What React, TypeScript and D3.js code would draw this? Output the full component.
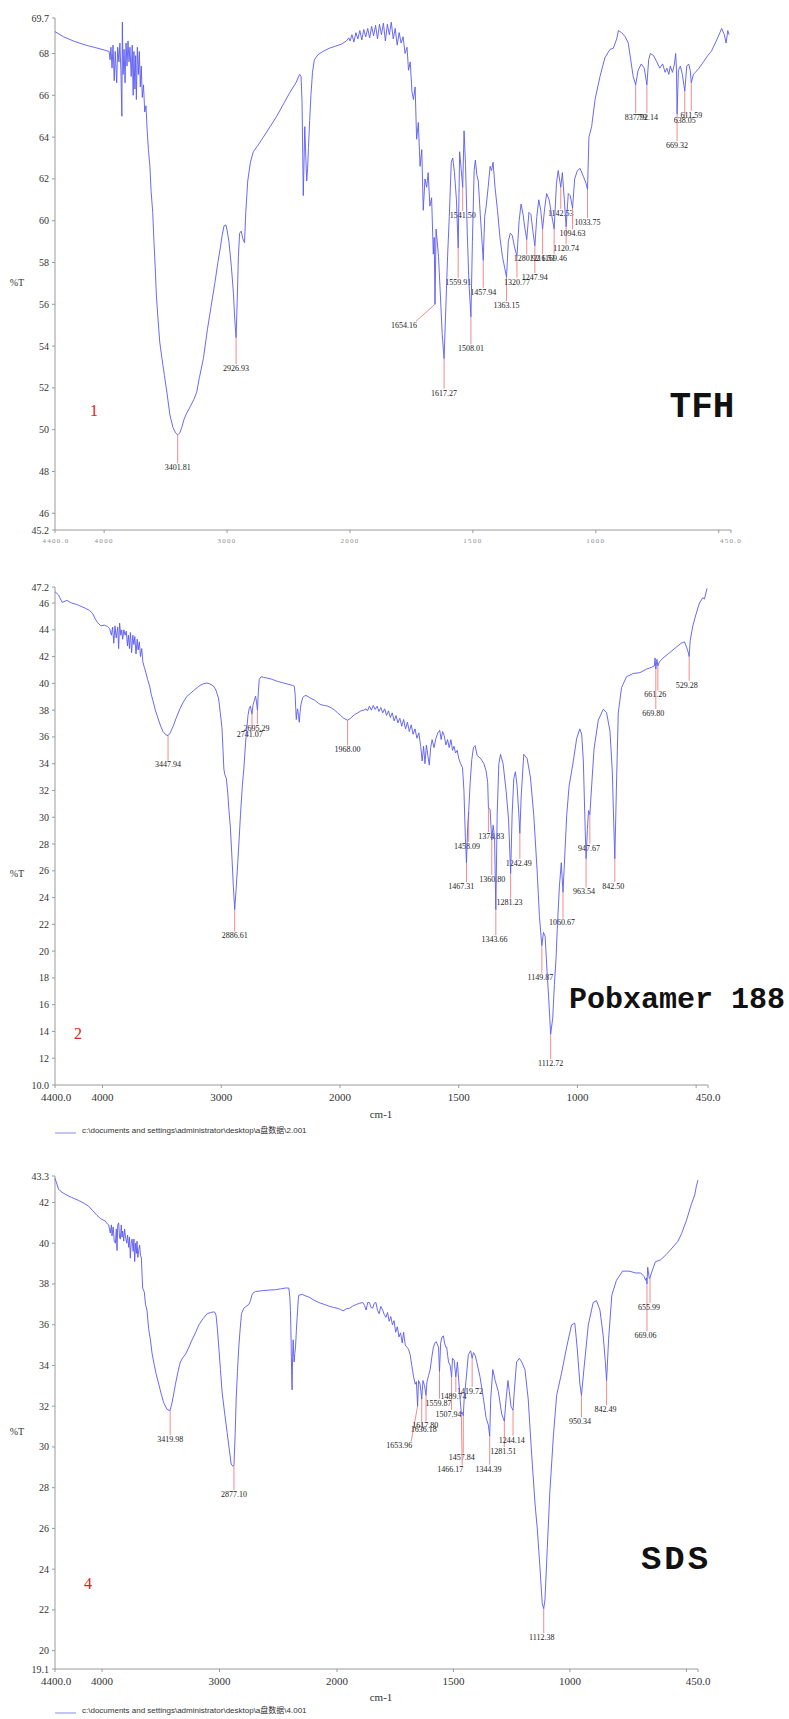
import React from "react";
import * as d3 from "d3";

// instrument x axis: linear from 4400 to 2000, then twice as wide per cm-1 down to 450
const xBreaks = [4400, 2000, 450];
const xTickValues = [4400, 4000, 3000, 2000, 1500, 1000, 500, 450];
const xTickLabels = ["4400.0", "4000", "3000", "2000", "1500", "1000", "", "450.0"];

// ---------- panel 1 : TFH ----------
const tfhYLabels = ["45.2", "46", "48", "50", "52", "54", "56", "58", "60", "62", "64", "66", "68", "69.7"];
const tfhSpectrum = [
  [4400, 69.05], [4330, 68.8], [4250, 68.6], [4150, 68.4], [4050, 68.25], [3990, 68.15], [3960, 68.1],
  [3952, 67.7], [3945, 68.3], [3936, 67.3], [3928, 68.4], [3918, 66.7], [3910, 68.1], [3898, 66.6],
  [3890, 68.3], [3880, 67.6], [3872, 68.5], [3864, 67.2], [3856, 65.0], [3852, 69.5], [3846, 67.0],
  [3838, 68.2], [3830, 66.6], [3822, 68.5], [3814, 67.4], [3806, 68.6], [3798, 67.6], [3790, 68.3],
  [3780, 66.9], [3772, 68.4], [3764, 66.0], [3758, 68.1], [3750, 66.3], [3744, 67.9], [3738, 65.8],
  [3730, 68.3], [3722, 67.0], [3714, 68.1], [3706, 66.4], [3698, 67.4], [3690, 65.9], [3680, 66.5],
  [3670, 65.2], [3660, 65.5], [3650, 64.3], [3640, 63.4], [3628, 62.6], [3618, 61.4], [3605, 60.4],
  [3595, 59.0], [3585, 57.8], [3575, 56.4], [3562, 55.3], [3548, 54.2], [3530, 53.4], [3510, 52.6],
  [3490, 51.8], [3465, 50.7], [3440, 50.1], [3420, 49.85], [3401.81, 49.75], [3385, 49.85], [3369, 50.1],
  [3350, 50.5], [3328, 50.8], [3300, 51.1], [3270, 51.45], [3247, 51.8], [3225, 52.5], [3193, 53.4],
  [3160, 54.8], [3130, 55.9], [3100, 57.0], [3075, 58.0], [3055, 58.7], [3040, 59.3], [3025, 59.75],
  [3010, 59.8], [3000, 59.55], [2985, 59.0], [2965, 57.8], [2948, 56.5], [2938, 55.3], [2926.93, 54.4],
  [2918, 56.1], [2908, 58.3], [2898, 59.4], [2885, 59.5], [2872, 59.15], [2858, 58.95], [2848, 60.4],
  [2832, 61.9], [2810, 62.8], [2787, 63.3], [2750, 63.6], [2705, 64.0], [2650, 64.5], [2596, 65.0],
  [2540, 65.6], [2488, 66.15], [2440, 66.6], [2410, 67.0], [2398, 66.9], [2390, 65.6], [2380, 61.2],
  [2374, 62.8], [2368, 64.5], [2360, 63.1], [2352, 61.9], [2345, 62.5], [2338, 63.5], [2328, 64.8],
  [2318, 66.0], [2305, 67.1], [2290, 67.7], [2260, 67.95], [2220, 68.1], [2170, 68.25], [2120, 68.35],
  [2070, 68.45], [2030, 68.6], [2010, 68.75], [2000, 68.6], [1992, 68.9], [1984, 68.55], [1976, 69.0],
  [1968, 68.7], [1960, 69.1], [1952, 68.65], [1944, 69.15], [1936, 68.8], [1928, 69.2], [1920, 68.75],
  [1912, 69.3], [1904, 68.85], [1896, 69.35], [1888, 68.7], [1880, 69.4], [1872, 68.9], [1864, 69.45],
  [1856, 68.6], [1848, 69.4], [1840, 68.9], [1832, 69.5], [1824, 68.7], [1816, 69.2], [1808, 68.4],
  [1800, 69.0], [1792, 68.5], [1784, 68.8], [1776, 68.0], [1768, 68.3], [1762, 67.2], [1755, 67.6],
  [1748, 66.2], [1742, 65.8], [1735, 66.4], [1729, 63.9], [1722, 64.7], [1715, 62.6], [1708, 63.4],
  [1702, 60.5], [1695, 62.0], [1688, 61.6], [1682, 62.3], [1675, 60.7], [1668, 61.1], [1661, 58.4],
  [1657.5, 59.2], [1654.16, 56.0], [1650, 59.6], [1645, 59.0], [1640, 58.3], [1633, 56.6], [1625, 54.6],
  [1617.27, 53.4], [1610, 55.9], [1603, 58.3], [1596, 60.2], [1588, 62.8], [1582, 63.0], [1575, 62.3],
  [1567, 61.0], [1559.91, 58.7], [1554, 63.3], [1548, 62.5], [1541.5, 61.6], [1536, 64.3], [1530, 62.7],
  [1523, 59.4], [1516, 57.0], [1508.01, 55.4], [1502, 59.0], [1495, 62.4], [1490, 62.9], [1484, 62.2],
  [1478, 61.9], [1470, 60.3], [1457.94, 58.1], [1452, 60.2], [1446, 60.7], [1438, 61.6], [1430, 62.6],
  [1424, 62.4], [1418, 62.8], [1410, 61.6], [1400, 60.5], [1390, 59.2], [1380, 58.3], [1370, 57.7],
  [1363.15, 57.3], [1356, 59.0], [1348, 59.4], [1340, 59.3], [1330, 58.7], [1320.77, 58.3], [1312, 60.0],
  [1304, 60.8], [1296, 60.3], [1288, 59.6], [1280.92, 59.1], [1272, 60.4], [1264, 60.3], [1256, 59.5],
  [1247.94, 58.8], [1240, 60.2], [1232, 61.0], [1224, 60.5], [1216.51, 59.6], [1208, 60.6], [1200, 61.3],
  [1190, 61.0], [1180, 60.3], [1169.46, 59.6], [1160, 61.8], [1153, 62.4], [1142.53, 61.6], [1136, 62.3],
  [1128, 61.0], [1120.74, 59.7], [1112, 61.3], [1104, 61.2], [1094.63, 60.6], [1086, 62.0], [1075, 62.4],
  [1064, 62.5], [1050, 62.1], [1040, 61.8], [1033.75, 61.5], [1028, 64.0], [1017, 64.5], [1003, 65.8],
  [983, 66.9], [963, 67.8], [942, 68.2], [929, 68.25], [915, 68.7], [908, 69.1], [895, 69.0], [880, 68.8],
  [868, 68.5], [858, 67.7], [848, 66.9], [837.79, 66.5], [828, 67.2], [815, 67.5], [803, 67.3],
  [792.14, 66.5], [785, 67.7], [778, 68.0], [765, 67.9], [752, 67.6], [740, 67.3], [728, 67.5], [718, 67.1],
  [711, 67.3], [703, 67.0], [697, 67.4], [688, 67.1], [680, 67.5], [675, 68.0], [672, 67.3], [669.32, 65.1],
  [664, 67.2], [656, 67.4], [648, 67.0], [638.05, 66.2], [630, 67.4], [622, 67.5], [616, 67.2],
  [611.59, 66.6], [603, 67.0], [595, 67.1], [580, 67.3], [562, 67.6], [545, 67.9], [530, 68.1], [510, 68.6],
  [495, 69.0], [488, 69.2], [477, 68.9], [470, 68.5], [463, 69.1], [458, 68.9],
];
// [peak cm-1, %T at peak, %T of label, cm-1 of label centre]
const tfhPeaks = [
  [3401.81, 49.75, 48.2], [2926.93, 54.4, 52.95], [1654.16, 56.0, 55.0, 1780], [1617.27, 53.4, 51.77],
  [1559.91, 58.7, 57.08], [1541.5, 61.6, 60.27], [1508.01, 55.4, 53.9], [1457.94, 58.1, 56.6],
  [1363.15, 57.3, 55.97], [1320.77, 58.3, 57.08], [1280.92, 59.1, 58.2], [1247.94, 58.8, 57.3],
  [1216.51, 59.6, 58.2], [1169.46, 59.6, 58.2], [1142.53, 61.6, 60.37], [1120.74, 59.7, 58.68],
  [1094.63, 60.6, 59.4], [1033.75, 61.5, 59.95], [837.79, 66.5, 64.95], [792.14, 66.5, 64.95],
  [669.32, 65.1, 63.62], [638.05, 66.2, 64.79], [611.59, 66.6, 65.06],
];

// ---------- panel 2 : Poloxamer 188 ----------
const poloxYLabels = ["10.0", "12", "14", "16", "18", "20", "22", "24", "26", "28", "30", "32", "34", "36", "38", "40", "42", "44", "46", "47.2"];
const poloxSpectrum = [
  [4400, 46.85], [4370, 46.6], [4340, 46.05], [4300, 46.2], [4260, 46.0], [4218, 45.9], [4180, 45.75],
  [4142, 45.6], [4110, 45.45], [4085, 45.25], [4060, 44.8], [4042, 44.55], [4014, 44.3], [3985, 44.35],
  [3958, 44.25], [3940, 44.1], [3925, 43.6], [3915, 44.2], [3905, 43.0], [3895, 44.3], [3885, 43.4],
  [3872, 44.2], [3864, 42.6], [3856, 44.5], [3846, 43.6], [3838, 44.0], [3830, 43.3], [3820, 44.0],
  [3810, 43.6], [3800, 43.9], [3790, 42.8], [3782, 43.6], [3773, 42.6], [3765, 43.8], [3755, 42.3],
  [3745, 43.6], [3736, 42.9], [3728, 43.5], [3718, 42.2], [3708, 43.3], [3700, 42.5], [3690, 43.1],
  [3680, 42.0], [3670, 42.6], [3660, 41.6], [3648, 41.2], [3635, 40.8], [3620, 40.3], [3603, 39.8],
  [3590, 39.2], [3575, 38.7], [3555, 38.0], [3533, 37.4], [3510, 36.8], [3490, 36.4], [3465, 36.15],
  [3447.94, 36.1], [3430, 36.3], [3405, 36.8], [3380, 37.4], [3348, 38.1], [3320, 38.6], [3292, 39.0],
  [3260, 39.25], [3235, 39.45], [3200, 39.7], [3178, 39.85], [3150, 39.97], [3122, 40.03], [3095, 39.95],
  [3065, 39.8], [3045, 39.5], [3023, 38.9], [3008, 37.8], [2994, 36.7], [2985, 35.0], [2978, 33.6],
  [2970, 33.2], [2957, 32.9], [2945, 31.8], [2935, 30.5], [2923, 29.2], [2910, 27.0], [2898, 24.8],
  [2886.61, 23.1], [2875, 24.6], [2861, 26.6], [2848, 28.6], [2838, 30.2], [2822, 32.4], [2810, 33.6],
  [2795, 35.6], [2787, 36.4], [2775, 37.6], [2765, 38.1], [2755, 38.3], [2741.07, 37.7], [2732, 38.4],
  [2722, 38.7], [2711, 39.05], [2703, 38.6], [2695.29, 38.0], [2688, 39.3], [2680, 40.3], [2665, 40.5],
  [2645, 40.45], [2612, 40.4], [2570, 40.3], [2527, 40.15], [2485, 40.05], [2442, 39.95], [2400, 39.85],
  [2385, 39.8], [2378, 39.2], [2372, 38.0], [2368, 37.3], [2362, 37.9], [2357, 38.1], [2350, 37.6],
  [2343, 37.1], [2336, 37.9], [2329, 38.4], [2314, 38.95], [2300, 39.05], [2286, 39.1], [2250, 38.9],
  [2215, 38.75], [2180, 38.5], [2158, 38.4], [2130, 38.35], [2102, 38.3], [2070, 38.15], [2045, 38.0],
  [2020, 37.8], [1997, 37.6], [1985, 37.4], [1968, 37.25], [1955, 37.4], [1940, 37.65], [1925, 37.8],
  [1912, 37.95], [1900, 38.0], [1890, 38.1], [1884, 37.95], [1876, 38.3], [1868, 38.0], [1860, 38.35],
  [1852, 38.05], [1844, 38.3], [1836, 37.9], [1828, 38.2], [1820, 37.8], [1812, 38.1], [1804, 37.6],
  [1796, 37.95], [1788, 37.45], [1780, 37.8], [1772, 37.2], [1764, 37.6], [1756, 37.05], [1748, 37.4],
  [1740, 36.8], [1732, 37.3], [1724, 36.6], [1716, 37.1], [1708, 36.4], [1700, 36.9], [1692, 36.2],
  [1684, 36.6], [1676, 35.9], [1668, 36.3], [1660, 35.3], [1654, 34.2], [1648, 35.3], [1642, 34.0],
  [1636, 35.4], [1630, 34.6], [1624, 33.9], [1618, 35.2], [1612, 35.8], [1604, 35.2], [1596, 35.9],
  [1588, 36.3], [1580, 36.5], [1574, 35.8], [1568, 36.4], [1561, 36.1], [1554, 35.4], [1547, 35.8],
  [1540, 35.2], [1533, 35.8], [1526, 35.0], [1520, 35.3], [1513, 34.8], [1506, 35.0], [1500, 34.4],
  [1492, 34.0], [1484, 33.7], [1478, 32.0], [1472, 28.5], [1467.31, 26.6], [1462, 29.4], [1458.09, 30.4],
  [1452, 32.5], [1445, 34.3], [1438, 35.2], [1431, 35.35], [1422, 34.6], [1408, 34.4], [1394, 34.0],
  [1385, 33.5], [1378, 32.6], [1374.83, 30.7], [1368, 30.6], [1360.8, 28.3], [1355, 29.4], [1349, 28.5],
  [1343.66, 23.1], [1338, 30.2], [1331, 34.0], [1324, 34.7], [1313, 34.0], [1300, 31.9], [1290, 29.8],
  [1281.23, 25.8], [1275, 30.2], [1268, 32.9], [1261, 33.4], [1254, 32.3], [1247, 30.3], [1242.49, 28.8],
  [1237, 31.5], [1226, 34.7], [1212, 34.4], [1198, 33.0], [1184, 30.2], [1170, 26.1], [1160, 22.6],
  [1149.87, 20.4], [1143, 21.4], [1136, 21.1], [1128, 18.5], [1121, 16.5], [1112.72, 13.8], [1104, 15.0],
  [1097, 17.5], [1090, 19.5], [1084, 22.0], [1076, 24.8], [1068, 26.6], [1060.67, 24.4], [1056, 26.1],
  [1045, 30.2], [1035, 32.35], [1019, 34.0], [1003, 35.9], [990, 36.6], [982, 36.2], [975, 34.2],
  [968, 29.5], [963.54, 26.9], [958, 29.1], [953, 30.5], [947.67, 30.2], [942, 31.8], [930, 35.1],
  [912, 37.26], [891, 38.07], [877, 37.8], [863, 36.44], [853, 33.4], [847, 29.5], [842.5, 26.9],
  [836, 32.0], [828, 37.8], [814, 39.7], [793, 40.5], [765, 40.74], [737, 40.8], [709, 41.07], [688, 41.2],
  [676, 41.3], [673, 41.9], [669.8, 41.07], [665, 41.8], [661.26, 41.3], [655, 41.6], [639, 41.9],
  [611, 42.3], [584, 42.7], [563, 43.0], [549, 43.1], [540, 42.7], [533, 42.3], [529.28, 42.0],
  [525, 43.2], [514, 44.3], [500, 45.2], [486, 46.0], [472, 46.4], [465, 46.3], [454, 47.1],
];
const poloxPeaks = [
  [3447.94, 36.1, 33.93], [2886.61, 23.1, 21.17], [2741.07, 37.7, 36.22, 2760], [2695.29, 38.0, 36.66, 2703],
  [1968.0, 37.25, 35.07], [1467.31, 26.6, 24.85, 1489], [1458.09, 30.4, 27.85, 1465],
  [1374.83, 30.7, 28.59, 1363], [1360.8, 28.3, 25.4, 1359], [1343.66, 23.1, 20.9, 1349],
  [1281.23, 25.8, 23.63, 1286], [1242.49, 28.8, 26.6, 1247], [1149.87, 20.4, 18.04, 1156],
  [1112.72, 13.8, 11.64], [1060.67, 24.4, 22.13, 1065], [963.54, 26.9, 24.44, 972], [947.67, 30.2, 27.72, 951],
  [842.5, 26.9, 24.85, 849], [669.8, 41.07, 37.8, 681], [661.26, 41.3, 39.16, 672], [529.28, 42.0, 39.9, 539],
];

// ---------- panel 3 : SDS ----------
const sdsYLabels = ["19.1", "20", "22", "24", "26", "28", "30", "32", "34", "36", "38", "40", "42", "43.3"];
const sdsSpectrum = [
  [4400, 43.19], [4369, 42.64], [4340, 42.5], [4312, 42.4], [4260, 42.25], [4199, 42.1], [4150, 41.95],
  [4114, 41.82], [4080, 41.6], [4043, 41.37], [4010, 41.2], [3972, 41.09], [3955, 40.95], [3943, 40.9],
  [3930, 40.5], [3920, 40.9], [3915, 40.36], [3905, 40.8], [3896, 40.1], [3886, 40.0], [3878, 40.7],
  [3872, 39.64], [3866, 40.9], [3858, 41.0], [3851, 40.3], [3844, 40.2], [3836, 40.9], [3830, 40.3],
  [3824, 40.6], [3815, 40.1], [3808, 40.7], [3801, 40.36], [3790, 40.0], [3782, 40.4], [3773, 39.8],
  [3766, 40.3], [3759, 39.27], [3752, 40.0], [3744, 40.2], [3735, 39.6], [3728, 40.2], [3722, 39.1],
  [3714, 40.0], [3707, 39.5], [3702, 40.1], [3695, 39.3], [3688, 39.64], [3680, 39.9], [3672, 39.4],
  [3665, 39.27], [3654, 37.8], [3640, 37.6], [3630, 37.0], [3617, 36.7], [3603, 35.8], [3588, 35.26],
  [3574, 34.6], [3560, 34.17], [3540, 33.6], [3517, 33.08], [3496, 32.6], [3475, 32.17], [3446, 31.84],
  [3430, 31.8], [3419.98, 31.8], [3404, 32.17], [3390, 32.6], [3375, 33.08], [3353, 33.7], [3333, 34.17],
  [3310, 34.4], [3290, 34.54], [3260, 34.9], [3233, 35.26], [3205, 35.6], [3176, 35.99], [3140, 36.3],
  [3105, 36.54], [3075, 36.6], [3049, 36.63], [3038, 36.6], [3029, 36.45], [3018, 35.8], [3006, 34.9],
  [2992, 33.8], [2978, 32.7], [2955, 31.6], [2935, 30.7], [2915, 29.8], [2901, 29.16], [2885, 29.05],
  [2877.1, 29.1], [2868, 30.4], [2858, 32.35], [2847, 33.7], [2836, 34.9], [2824, 35.8], [2813, 36.54],
  [2793, 36.81], [2765, 36.94], [2750, 37.0], [2736, 37.18], [2725, 37.45], [2716, 37.54], [2694, 37.63],
  [2637, 37.67], [2580, 37.7], [2523, 37.72], [2480, 37.76], [2438, 37.8], [2410, 37.8], [2402, 37.4],
  [2396, 36.7], [2390, 35.0], [2386, 33.5], [2382, 32.8], [2378, 34.4], [2373, 35.26], [2369, 34.6],
  [2365, 34.17], [2359, 34.6], [2353, 34.9], [2346, 35.7], [2339, 36.36], [2330, 37.2], [2325, 37.45],
  [2296, 37.49], [2270, 37.42], [2240, 37.36], [2200, 37.22], [2155, 37.09], [2110, 37.0], [2062, 36.9],
  [2030, 36.85], [2000, 36.81], [1985, 36.75], [1974, 36.68], [1960, 36.78], [1946, 36.81], [1932, 36.92],
  [1918, 36.99], [1904, 37.05], [1889, 37.09], [1882, 36.95], [1875, 36.72], [1868, 37.1], [1861, 37.09],
  [1854, 36.85], [1847, 36.81], [1840, 37.05], [1833, 37.09], [1826, 36.7], [1819, 36.54], [1812, 36.9],
  [1804, 36.72], [1797, 36.5], [1790, 36.36], [1783, 36.6], [1776, 36.17], [1769, 36.4], [1762, 35.99],
  [1755, 36.2], [1748, 35.63], [1741, 35.9], [1734, 35.4], [1727, 35.6], [1720, 35.1], [1714, 35.63],
  [1707, 35.0], [1700, 34.9], [1693, 34.8], [1686, 34.54], [1679, 34.0], [1671, 33.44], [1664, 33.08],
  [1659, 33.2], [1653.96, 32.0], [1650, 33.26], [1643, 33.08], [1636.18, 32.35], [1631, 33.26],
  [1624, 33.0], [1617.8, 32.53], [1614, 33.17], [1607, 33.5], [1600, 33.8], [1593, 34.4], [1586, 34.9],
  [1580, 35.1], [1574, 35.17], [1568, 35.0], [1564, 34.9], [1559.87, 33.7], [1555, 35.1], [1549, 35.4],
  [1543, 35.45], [1538, 35.1], [1533, 34.9], [1529, 34.9], [1525, 34.5], [1521, 34.17], [1514, 34.0],
  [1507.94, 33.44], [1504, 34.35], [1497, 34.26], [1489.74, 33.44], [1483, 34.17], [1477, 33.2],
  [1471, 32.3], [1466.17, 31.62], [1462, 31.7], [1457.84, 31.53], [1454, 32.35], [1446, 33.26],
  [1436, 34.54], [1426, 34.72], [1419.72, 34.35], [1414, 34.63], [1407, 34.5], [1400, 34.17],
  [1386, 33.44], [1371, 32.35], [1360, 31.44], [1350, 31.07], [1344.39, 30.53], [1340, 32.35],
  [1331, 33.8], [1321, 33.26], [1307, 32.71], [1293, 31.62], [1281.51, 31.26], [1274, 32.35],
  [1266, 33.26], [1260, 32.71], [1253, 31.99], [1244.14, 31.8], [1239, 32.71], [1229, 34.17],
  [1217, 34.35], [1207, 34.17], [1193, 33.8], [1179, 32.35], [1164, 29.6], [1150, 27.25], [1140, 25.97],
  [1129, 24.15], [1119, 22.33], [1112.38, 22.06], [1107, 22.5], [1097, 25.06], [1086, 27.8], [1071, 30.53],
  [1057, 32.53], [1036, 33.62], [1014, 34.9], [993, 35.99], [979, 36.08], [969, 34.9], [957, 33.08],
  [950.34, 32.53], [940, 33.8], [921, 35.99], [900, 37.09], [886, 37.18], [871, 36.72], [857, 35.45],
  [848, 34.2], [842.49, 33.26], [834, 35.26], [820, 37.45], [800, 38.18], [774, 38.63], [746, 38.63],
  [717, 38.54], [696, 38.54], [681, 38.36], [675, 38.18], [671, 38.3], [669.06, 38.0], [666, 38.82],
  [659, 38.27], [655.99, 38.3], [650, 38.54], [633, 39.09], [611, 39.18], [586, 39.45], [557, 39.82],
  [536, 40.1], [521, 40.46], [500, 41.1], [479, 41.9], [464, 42.37], [457, 42.8], [450, 43.1],
];
const sdsPeaks = [
  [3419.98, 31.8, 30.38], [2877.1, 29.1, 27.7], [1653.96, 32.0, 30.07, 1733], [1636.18, 32.35, 30.85, 1628],
  [1617.8, 32.53, 31.05, 1621], [1559.87, 33.7, 32.17, 1564], [1507.94, 33.44, 31.62, 1521],
  [1489.74, 33.44, 32.5, 1500], [1419.72, 34.35, 32.75, 1429], [1457.84, 31.53, 29.49, 1464],
  [1466.17, 31.62, 28.89, 1514], [1344.39, 30.53, 28.93, 1350], [1281.51, 31.26, 29.8, 1286],
  [1244.14, 31.8, 30.35, 1250], [1112.38, 22.06, 20.66, 1121], [950.34, 32.53, 31.26, 957],
  [842.49, 33.26, 31.84, 847], [669.06, 38.0, 35.48, 675], [655.99, 38.3, 36.87, 660],
];

const AXIS = "#9a9a9a";
const LINE = "#5a5af2";
const MARK = "#f08c8c";
const SERIF = "'Liberation Serif', 'Times New Roman', serif";
const MONO = "'Liberation Mono', 'Courier New', monospace";

const Panel = (p) => {
  const x = d3.scaleLinear().domain(xBreaks).range(p.xRange);
  const y = d3.scaleLinear().domain(p.yDomain).range(p.yRange);
  const path = d3.line().x((d) => x(d[0])).y((d) => y(d[1]))(p.spectrum);
  const x0 = p.xRange[0];
  const x1 = p.xRange[2];
  const yb = p.yRange[0];
  const yt = p.yRange[1];
  const faint = p.faintTicks;

  return (
    <g>
      <line x1={x0} x2={x0} y1={yt} y2={yb} stroke={AXIS} />
      <line x1={x0} x2={x1} y1={yb} y2={yb} stroke={AXIS} />
      {p.yLabels.map((l) => {
        const v = parseFloat(l);
        return (
          <g key={l}>
            <line x1={x0 - 3} x2={x0} y1={y(v)} y2={y(v)} stroke={AXIS} />
            <text x={x0 - 6} y={y(v)} dy="0.35em" textAnchor="end" fontSize={10} fill="#333" fontFamily={SERIF}>
              {l}
            </text>
          </g>
        );
      })}
      {xTickValues.map((v, i) => (
        <g key={v}>
          <line x1={x(v)} x2={x(v)} y1={yb} y2={yb + 3} stroke={AXIS} />
          <text
            x={i === 0 ? x(v) + 1 : x(v)}
            y={yb + (faint ? 11 : 12)}
            dy="0.35em"
            textAnchor="middle"
            fontSize={faint ? 7 : 11}
            letterSpacing={faint ? 1.3 : 0}
            fill={faint ? "#8c8c8c" : "#333"}
            fontFamily={SERIF}
          >
            {xTickLabels[i]}
          </text>
        </g>
      ))}
      <text x={17} y={p.pctY} dy="0.35em" textAnchor="middle" fontSize={10} fill="#333" fontFamily={SERIF}>
        %T
      </text>
      {p.cmY && (
        <text x={381} y={p.cmY} dy="0.35em" textAnchor="middle" fontSize={11} fill="#333" fontFamily={SERIF}>
          cm-1
        </text>
      )}
      {p.peaks.map((pk) => {
        const [wn, t, lt, lwn] = pk;
        const px = x(wn);
        const py = y(t);
        const lx = x(lwn ?? wn);
        const ly = y(lt);
        const off = Math.abs(px - lx) > 8 ? Math.sign(px - lx) * 12 : px - lx;
        return (
          <g key={wn}>
            <line x1={px} y1={py} x2={lx + off} y2={ly - 4} stroke={MARK} strokeWidth={1} />
            <text x={lx} y={ly} dy="0.35em" textAnchor="middle" fontSize={8} fill="#222" fontFamily={SERIF}>
              {wn.toFixed(2)}
            </text>
          </g>
        );
      })}
      <path d={path} fill="none" stroke={LINE} strokeWidth={1} strokeOpacity={0.9} />
      <text x={p.tag[1]} y={p.tag[2]} dy="0.35em" textAnchor="middle" fontSize={16} fill="#e02020" fontFamily={SERIF}>
        {p.tag[0]}
      </text>
      <text
        x={p.title[1]}
        y={p.title[2]}
        dy="0.35em"
        textAnchor="middle"
        fontSize={p.title[3]}
        fontWeight="bold"
        letterSpacing={p.title[4] ?? 0}
        fill="#111"
        fontFamily={MONO}
      >
        {p.title[0]}
      </text>
      {p.footer && (
        <g>
          <line x1={55} x2={76} y1={p.footerY + 3} y2={p.footerY + 3} stroke="#8a8ae6" />
          <text x={82} y={p.footerY} dy="0.35em" fontSize={8} fill="#333" fontFamily="'Liberation Sans', 'Noto Sans CJK SC', sans-serif">
            {p.footer}
          </text>
        </g>
      )}
    </g>
  );
};

export default function App() {
  return (
    <div style={{ position: "absolute", left: 0, top: 0, background: "#fff" }}>
      <svg width={789} height={1719} style={{ display: "block" }}>
        <rect width={789} height={1719} fill="#fff" />
        <Panel
          spectrum={tfhSpectrum}
          peaks={tfhPeaks}
          xRange={[55, 350, 731]}
          yDomain={[45.2, 69.7]}
          yRange={[530, 18]}
          yLabels={tfhYLabels}
          faintTicks
          pctY={282}
          tag={["1", 94, 410]}
          title={["TFH", 702, 404, 36]}
        />
        <Panel
          spectrum={poloxSpectrum}
          peaks={poloxPeaks}
          xRange={[55, 340, 708]}
          yDomain={[10, 47.2]}
          yRange={[1085, 587]}
          yLabels={poloxYLabels}
          pctY={873}
          cmY={1114}
          tag={["2", 78, 1033]}
          title={["Pobxamer 188", 677, 997, 30]}
          footer={"c:\\documents and settings\\administrator\\desktop\\a盘数据\\2.001"}
          footerY={1130}
        />
        <Panel
          spectrum={sdsSpectrum}
          peaks={sdsPeaks}
          xRange={[55, 337, 698]}
          yDomain={[19.1, 43.3]}
          yRange={[1669, 1176]}
          yLabels={sdsYLabels}
          pctY={1431}
          cmY={1697}
          tag={["4", 88, 1583]}
          title={["SDS", 676, 1557, 34, 3]}
          footer={"c:\\documents and settings\\administrator\\desktop\\a盘数据\\4.001"}
          footerY={1710}
        />
      </svg>
    </div>
  );
}
